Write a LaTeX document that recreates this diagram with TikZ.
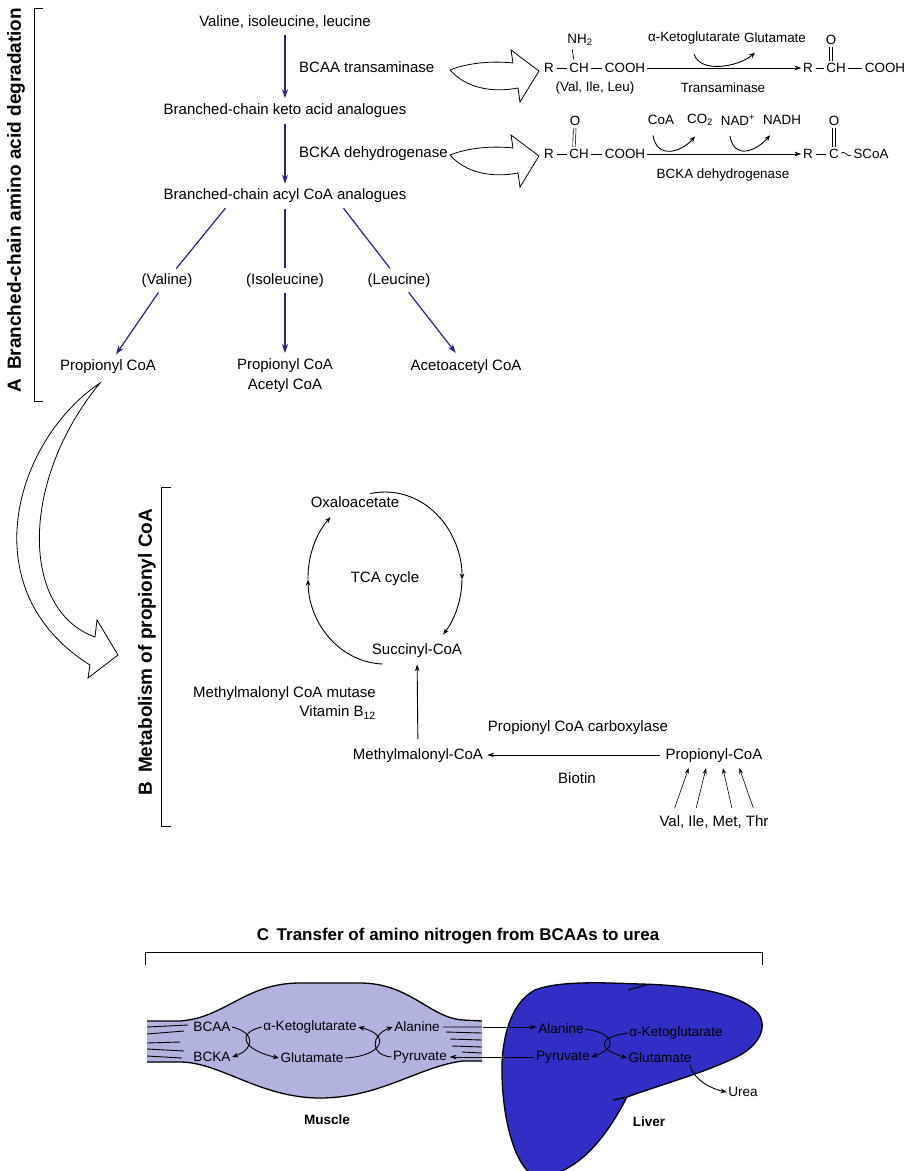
\documentclass[tikz,border=0pt]{standalone}
\usepackage{fontspec}
\setmainfont{Liberation Sans}
\usetikzlibrary{positioning,arrows.meta}

\definecolor{pathblue}{RGB}{38,36,140}
\definecolor{musclefill}{RGB}{178,178,222}
\definecolor{liverfill}{RGB}{48,46,196}

\tikzset{
	lbl/.style={inner sep=2pt, text height=11pt, text depth=3pt},
	chem/.style={font=\fontsize{13.4}{15}\selectfont, inner sep=1.5pt},
	organ/.style={font=\fontsize{13.6}{15}\selectfont, inner sep=1.5pt},
	organname/.style={font=\bfseries\fontsize{13.5}{15}\selectfont},
	sect/.style={font=\bfseries\fontsize{19}{21}\selectfont, rotate=90},
	sectC/.style={font=\bfseries\fontsize{17}{20}\selectfont},
	pathway/.style={draw=pathblue, line width=1.2pt, shorten <=4pt, shorten >=3pt},
	pathtip/.style={pathway, -{Stealth[length=9pt,width=6pt]}},
	rxn/.style={line width=0.9pt, -{Stealth[length=7pt,width=4.5pt]}},
	curv/.style={line width=0.9pt, -{Stealth[length=6pt,width=5pt]}},
	cycarr/.style={line width=0.9pt, -{Stealth[length=6pt,width=4.5pt]}},
	srcarr/.style={line width=0.6pt, -{Stealth[length=6pt,width=4pt]}, shorten <=5pt, shorten >=4pt},
	hollow/.style={draw, fill=white, line width=0.8pt, line join=miter},
	bracket/.style={line width=0.8pt},
	bond/.style={line width=0.7pt, shorten <=1pt, shorten >=1pt},
	dbl/.style={double distance=2pt, line width=0.6pt, shorten <=1pt, shorten >=1pt},
	outline/.style={line width=1.3pt},
	fibre/.style={line width=0.9pt},
}

\begin{document}
\begin{tikzpicture}[x=1pt, y=1pt, font=\fontsize{15}{18}\selectfont]
	\useasboundingbox (0,0) rectangle (906,-1171);
	\fill[white] (0,0) rectangle (906,-1171);

	\node[sect] (hdA) at (16,-200) {A\hspace{0.45em}Branched-chain amino acid degradation};
	\draw[bracket] (43,-8) -- (34,-8) -- (34,-401) -- (43,-401);

	\node[lbl]                      (bcaa) at (285,-22) {Valine, isoleucine, leucine};
	\node[lbl, below=70pt of bcaa]  (keto) {Branched-chain keto acid analogues};
	\node[lbl, below=67pt of keto]  (acyl) {Branched-chain acyl CoA analogues};
	\node[lbl, anchor=west]         (trans) at (297,-68) {BCAA transaminase};
	\node[lbl, anchor=west]         (dehyd) at (297,-153) {BCKA dehydrogenase};

	\node[lbl] (val) at (167,-280) {(Valine)};
	\node[lbl] (ile) at (285,-280) {(Isoleucine)};
	\node[lbl] (leu) at (399,-280) {(Leucine)};
	\node[lbl] (prop1) at (108,-366) {Propionyl CoA};
	\node[align=center, anchor=north, inner sep=2pt] (prop2) at (285,-356) {Propionyl CoA\\[2pt]Acetyl CoA};
	\node[lbl] (aceto) at (466,-366) {Acetoacetyl CoA};

	\draw[pathtip] (bcaa) -- (keto);
	\draw[pathtip] (keto) -- (acyl);
	\draw[pathway] ([xshift=-57pt]acyl.south) -- (val);
	\draw[pathway] (acyl) -- (ile);
	\draw[pathway] ([xshift=56pt]acyl.south) -- (leu);
	\draw[pathtip] (val) -- (prop1);
	\draw[pathtip] (ile) -- (prop2);
	\draw[pathtip, shorten >=5pt] (leu) -- (aceto);

	\draw[hollow] (450,-70) .. controls (470,-62) and (495,-61) .. (513,-63) -- (511,-50) -- (539,-71) -- (520,-102) -- (518,-88)
		.. controls (492,-93) and (466,-88) .. (450,-70) -- cycle;
	\draw[hollow] (450,-155) .. controls (470,-147) and (495,-146) .. (513,-148) -- (511,-135) -- (539,-156) -- (520,-187) -- (518,-173)
		.. controls (492,-178) and (466,-173) .. (450,-155) -- cycle;

	\node[chem] (nh) at (580,-40) {NH\textsubscript{2}};
	\node[chem] (r1) at (549,-68) {R};
	\node[chem] (ch1) at (579,-68) {CH};
	\node[chem] (cooh1) at (625,-68) {COOH};
	\node[chem] (aal) at (595,-88) {(Val, Ile, Leu)};
	\draw[bond] (r1) -- (ch1);
	\draw[bond] (ch1) -- (cooh1);
	\draw[bond, shorten <=2pt, shorten >=2pt] ([xshift=-5pt]ch1.north) -- ([xshift=-8pt]nh.south);

	\node[chem] (akg1) at (694,-38) {α-Ketoglutarate};
	\node[chem] (glu1) at (775,-38) {Glutamate};
	\node[chem] (tase) at (723,-88) {Transaminase};

	\node[chem] (r1p) at (808,-68) {R};
	\node[chem] (ch1p) at (836,-68) {CH};
	\node[chem] (cooh1p) at (885,-68) {COOH};
	\node[chem] (o1) at (831,-40) {O};
	\draw[bond] (r1p) -- (ch1p);
	\draw[bond] (ch1p) -- (cooh1p);
	\draw[dbl] ([xshift=-5pt]ch1p.north) -- (o1);
	\draw[rxn] (cooh1) -- (r1p);
	\draw[curv] ([yshift=-8pt]akg1.south) .. controls +(6,-20) and +(-16,-14) .. ([xshift=-20pt,yshift=-8pt]glu1.south);

	\node[chem] (o2) at (575,-121) {O};
	\node[chem] (r2) at (549,-154) {R};
	\node[chem] (ch2) at (579,-154) {CH};
	\node[chem] (cooh2) at (625,-154) {COOH};
	\draw[bond] (r2) -- (ch2);
	\draw[bond] (ch2) -- (cooh2);
	\draw[dbl] ([xshift=-5pt]ch2.north) -- (o2);

	\node[chem] (r2p) at (808,-154) {R};
	\node[chem] (c2p) at (834,-154) {C};
	\node[chem] (scoa) at (871,-154) {SCoA};
	\node[chem] (o2p) at (834,-121) {O};
	\draw[bond] (r2p) -- (c2p);
	\draw[bond] (c2p.east) .. controls +(3,5) and +(-3,-5) .. (scoa.west);
	\draw[dbl] (c2p) -- (o2p);
	\draw[rxn] (cooh2) -- (r2p);

	\node[chem] (coa) at (661,-120) {CoA};
	\node[chem] (co2) at (700,-120) {CO\textsubscript{2}};
	\node[chem] (nadp) at (738,-120) {NAD\textsuperscript{+}};
	\node[chem] (nadh) at (782,-120) {NADH};
	\node[chem] (bckd) at (723,-175) {BCKA dehydrogenase};
	\draw[curv] ([xshift=-8pt,yshift=-9pt]coa.south) .. controls +(4,-24) and +(-14,-16) .. ([xshift=-5pt,yshift=-9pt]co2.south);
	\draw[curv] ([xshift=-8pt,yshift=-9pt]nadp.south) .. controls +(4,-24) and +(-14,-16) .. ([xshift=-12pt,yshift=-9pt]nadh.south);

	\draw[hollow] (100,-383) .. controls (15,-440) and (-30,-590) .. (90,-665) -- (88,-678) -- (118,-655) -- (97,-620) -- (95,-637)
		.. controls (20,-610) and (20,-480) .. (100,-383) -- cycle;

	\node[sect] (hdB) at (147,-652) {B\hspace{0.45em}Metabolism of propionyl CoA};
	\draw[bracket] (171,-487) -- (161,-487) -- (161,-826) -- (171,-826);

	\node[lbl] (oxa) at (355,-503) {Oxaloacetate};
	\node[lbl] (tca) at (385,-578) {TCA cycle};
	\node[lbl] (suc) at (417,-650) {Succinyl-CoA};
	\draw[cycarr] (tca) ++(101:77 and 86) arc[start angle=101, end angle=-1, x radius=77, y radius=86];
	\draw[cycarr] (tca) ++(-1:77 and 86) arc[start angle=-1, end angle=-41, x radius=77, y radius=86];
	\draw[cycarr] (tca) ++(268:77 and 86) arc[start angle=268, end angle=181, x radius=77, y radius=86];
	\draw[cycarr] (tca) ++(181:77 and 86) arc[start angle=181, end angle=135, x radius=77, y radius=86];

	\node[align=right, anchor=east, inner sep=2pt] (mut) at (378,-703) {Methylmalonyl CoA mutase\\[1pt]Vitamin B\textsubscript{12}};
	\node[lbl] (mmc) at (418,-755) {Methylmalonyl-CoA};
	\node[lbl] (pcoa) at (714,-755) {Propionyl-CoA};
	\node[lbl] (pcc) at (578,-727) {Propionyl CoA carboxylase};
	\node[lbl] (bio) at (577,-779) {Biotin};
	\node[lbl] (src) at (714,-822) {Val, Ile, Met, Thr};
	\draw[rxn, shorten <=7pt, shorten >=5pt] (mmc) -- (suc);
	\draw[rxn, shorten <=3pt, shorten >=2pt] (pcoa) -- (mmc);
	\draw[srcarr] ([xshift=-41pt]src.north) -- ([xshift=-24pt]pcoa.south);
	\draw[srcarr] ([xshift=-19pt]src.north) -- ([xshift=-7pt]pcoa.south);
	\draw[srcarr] ([xshift=19pt]src.north) -- ([xshift=8pt]pcoa.south);
	\draw[srcarr] ([xshift=41pt]src.north) -- ([xshift=24pt]pcoa.south);

	\node[sectC] (hdC) at (458,-936) {C\hspace{0.45em}Transfer of amino nitrogen from BCAAs to urea};
	\draw[bracket] (145,-965) -- (145,-952) -- (762,-952) -- (762,-965);

	\fill[musclefill] (147,-1021) -- (180,-1021) .. controls (225,-1018) and (245,-983) .. (300,-983) -- (360,-983)
		.. controls (410,-983) and (430,-1018) .. (463,-1020) -- (482,-1021) -- (482,-1061) -- (463,-1061)
		.. controls (420,-1066) and (380,-1098) .. (320,-1098) .. controls (260,-1098) and (220,-1062) .. (180,-1062) -- (147,-1062) -- cycle;
	\draw[outline] (147,-1021) -- (180,-1021) .. controls (225,-1018) and (245,-983) .. (300,-983) -- (360,-983)
		.. controls (410,-983) and (430,-1018) .. (463,-1020) -- (482,-1021);
	\draw[outline] (147,-1062) -- (180,-1062) .. controls (220,-1062) and (260,-1098) .. (320,-1098)
		.. controls (380,-1098) and (420,-1066) .. (463,-1061) -- (482,-1061);
	\draw[fibre] (147,-1027) -- (188,-1025) (147,-1034) -- (184,-1031) (147,-1043) -- (180,-1042)
		(147,-1049) -- (184,-1051) (147,-1056) -- (182,-1058);
	\draw[fibre] (443,-1027) -- (482,-1027) (446,-1032) -- (482,-1033) (450,-1039) -- (482,-1040)
		(452,-1046) -- (482,-1047) (462,-1052) -- (482,-1053);

	\draw[outline, fill=liverfill] (530,-1173) .. controls (514,-1160) and (503,-1120) .. (502,-1075)
		.. controls (501,-1040) and (510,-1003) .. (535,-990) .. controls (560,-980) and (610,-983) .. (640,-984)
		.. controls (690,-985) and (740,-993) .. (758,-1013) .. controls (770,-1030) and (755,-1050) .. (730,-1060)
		.. controls (700,-1074) and (660,-1085) .. (627,-1097) .. controls (615,-1120) and (592,-1160) .. (557,-1173) -- cycle;
	\draw[outline] (613,-1100) -- (627,-1097);
	\draw[line width=1pt] (628,-990) -- (646,-985);

	\node[organ] (bcaa2) at (212,-1027) {BCAA};
	\node[organ] (bcka2) at (212,-1057) {BCKA};
	\node[organ] (akg2) at (310,-1027) {α-Ketoglutarate};
	\node[organ] (glu2) at (312,-1058) {Glutamate};
	\node[organ] (ala2) at (417,-1027) {Alanine};
	\node[organ] (pyr2) at (420,-1057) {Pyruvate};
	\node[organname] (mus) at (327,-1120) {Muscle};

	\node[organ] (ala3) at (561,-1029) {Alanine};
	\node[organ] (akg3) at (676,-1033) {α-Ketoglutarate};
	\node[organ] (pyr3) at (563,-1057) {Pyruvate};
	\node[organ] (glu3) at (660,-1058) {Glutamate};
	\node[organ] (urea) at (743,-1092) {Urea};
	\node[organname] (liv) at (649,-1122) {Liver};

	\draw[curv] (bcaa2.east) .. controls +(24,-6) and +(22,8) .. (bcka2.east);
	\draw[curv] (akg2.west) .. controls +(-26,-6) and +(-36,8) .. (glu2.west);
	\draw[curv] (glu2.east) .. controls +(38,2) and +(33,-8) .. (akg2.east);
	\draw[curv] (pyr2.west) .. controls +(-22,2) and +(-22,-8) .. (ala2.west);
	\draw[rxn, shorten <=42pt] (ala2) -- (ala3.west |- ala2);
	\draw[rxn, shorten >=1pt] (pyr3) -- (pyr2);
	\draw[curv] (ala3.east) .. controls +(28,-4) and +(28,10) .. (pyr3.east);
	\draw[curv] (akg3.west) .. controls +(-28,-4) and +(-32,10) .. (glu3.west);
	\draw[curv] ([xshift=-3pt]glu3.south east) .. controls +(3,-15) and +(-15,3) .. (urea.west);
\end{tikzpicture}
\end{document}
